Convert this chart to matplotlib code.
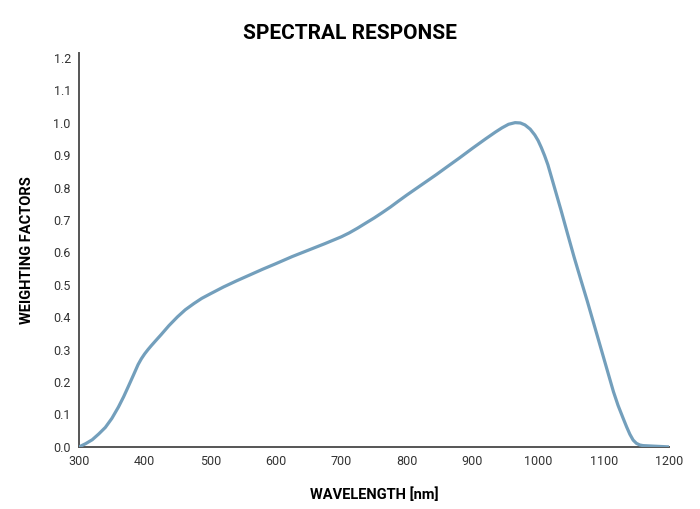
import matplotlib
matplotlib.use("Agg")
import matplotlib.pyplot as plt

# ===== Data =====
wavelength = [300, 310, 320, 330, 340, 350, 360, 368, 375, 383, 390, 395, 400,
              405, 410, 417, 425, 437, 450, 462, 475, 487, 500, 520, 540, 560,
              580, 600, 625, 650, 675, 700, 712, 725, 737, 750, 762, 775, 787,
              800, 815, 830, 845, 860, 880, 900, 920, 935, 945, 955, 965, 973,
              980, 988, 995, 1000, 1005, 1010, 1015, 1025, 1035, 1045, 1055,
              1065, 1075, 1085, 1095, 1105, 1115, 1122, 1130, 1135, 1140, 1145,
              1150, 1155, 1160, 1170, 1180, 1190, 1200]
weighting = [0.0, 0.01, 0.022, 0.040, 0.060, 0.088, 0.123, 0.155, 0.186,
             0.222, 0.254, 0.272, 0.287, 0.300, 0.312, 0.328, 0.346, 0.374,
             0.401, 0.423, 0.442, 0.458, 0.472, 0.493, 0.512, 0.53, 0.548,
             0.565, 0.587, 0.607, 0.627, 0.648, 0.66, 0.675, 0.69, 0.706,
             0.722, 0.74, 0.758, 0.777, 0.798, 0.819, 0.84, 0.862, 0.891,
             0.921, 0.950, 0.971, 0.984, 0.995, 1.0, 0.999, 0.993, 0.98,
             0.962, 0.945, 0.923, 0.898, 0.87, 0.80, 0.73, 0.657, 0.585,
             0.517, 0.45, 0.38, 0.31, 0.24, 0.17, 0.128, 0.087, 0.062, 0.039,
             0.021, 0.011, 0.006, 0.004, 0.003, 0.002, 0.001, 0.0]
xticks = [300, 400, 500, 600, 700, 800, 900, 1000, 1100, 1200]
yticks = [0.0, 0.1, 0.2, 0.3, 0.4, 0.5, 0.6, 0.7, 0.8, 0.9, 1.0, 1.1, 1.2]

plt.rcParams['font.family'] = ['Roboto', 'DejaVu Sans']

fig = plt.figure(figsize=(7, 5.09), dpi=100)
ax = fig.add_axes([0.113, 0.122, 0.843, 0.774])

ax.plot(wavelength, weighting, color="#739fbc", linewidth=2.3,
        solid_capstyle="round", solid_joinstyle="round", zorder=3)

ax.set_xlim(300, 1200)
ax.set_ylim(0, 1.215)
ax.set_xticks(xticks)
ax.set_yticks(yticks)
ax.set_yticklabels([f"{v:.1f}" for v in yticks])
ax.tick_params(length=0, labelsize=9, colors="#333333", pad=6)

for side in ["top", "right"]:
    ax.spines[side].set_visible(False)
for side in ["left", "bottom"]:
    ax.spines[side].set_color("#555555")
    ax.spines[side].set_linewidth(1.4)

ax.set_xlabel("WAVELENGTH [nm]", fontsize=10.5, fontweight="bold", labelpad=14)
ax.set_ylabel("WEIGHTING FACTORS", fontsize=10.5, fontweight="bold", labelpad=14)
fig.text(0.5, 0.935, "SPECTRAL RESPONSE", ha="center", va="center",
         fontsize=15, fontweight="bold")

fig.savefig("out.png", dpi=100)
